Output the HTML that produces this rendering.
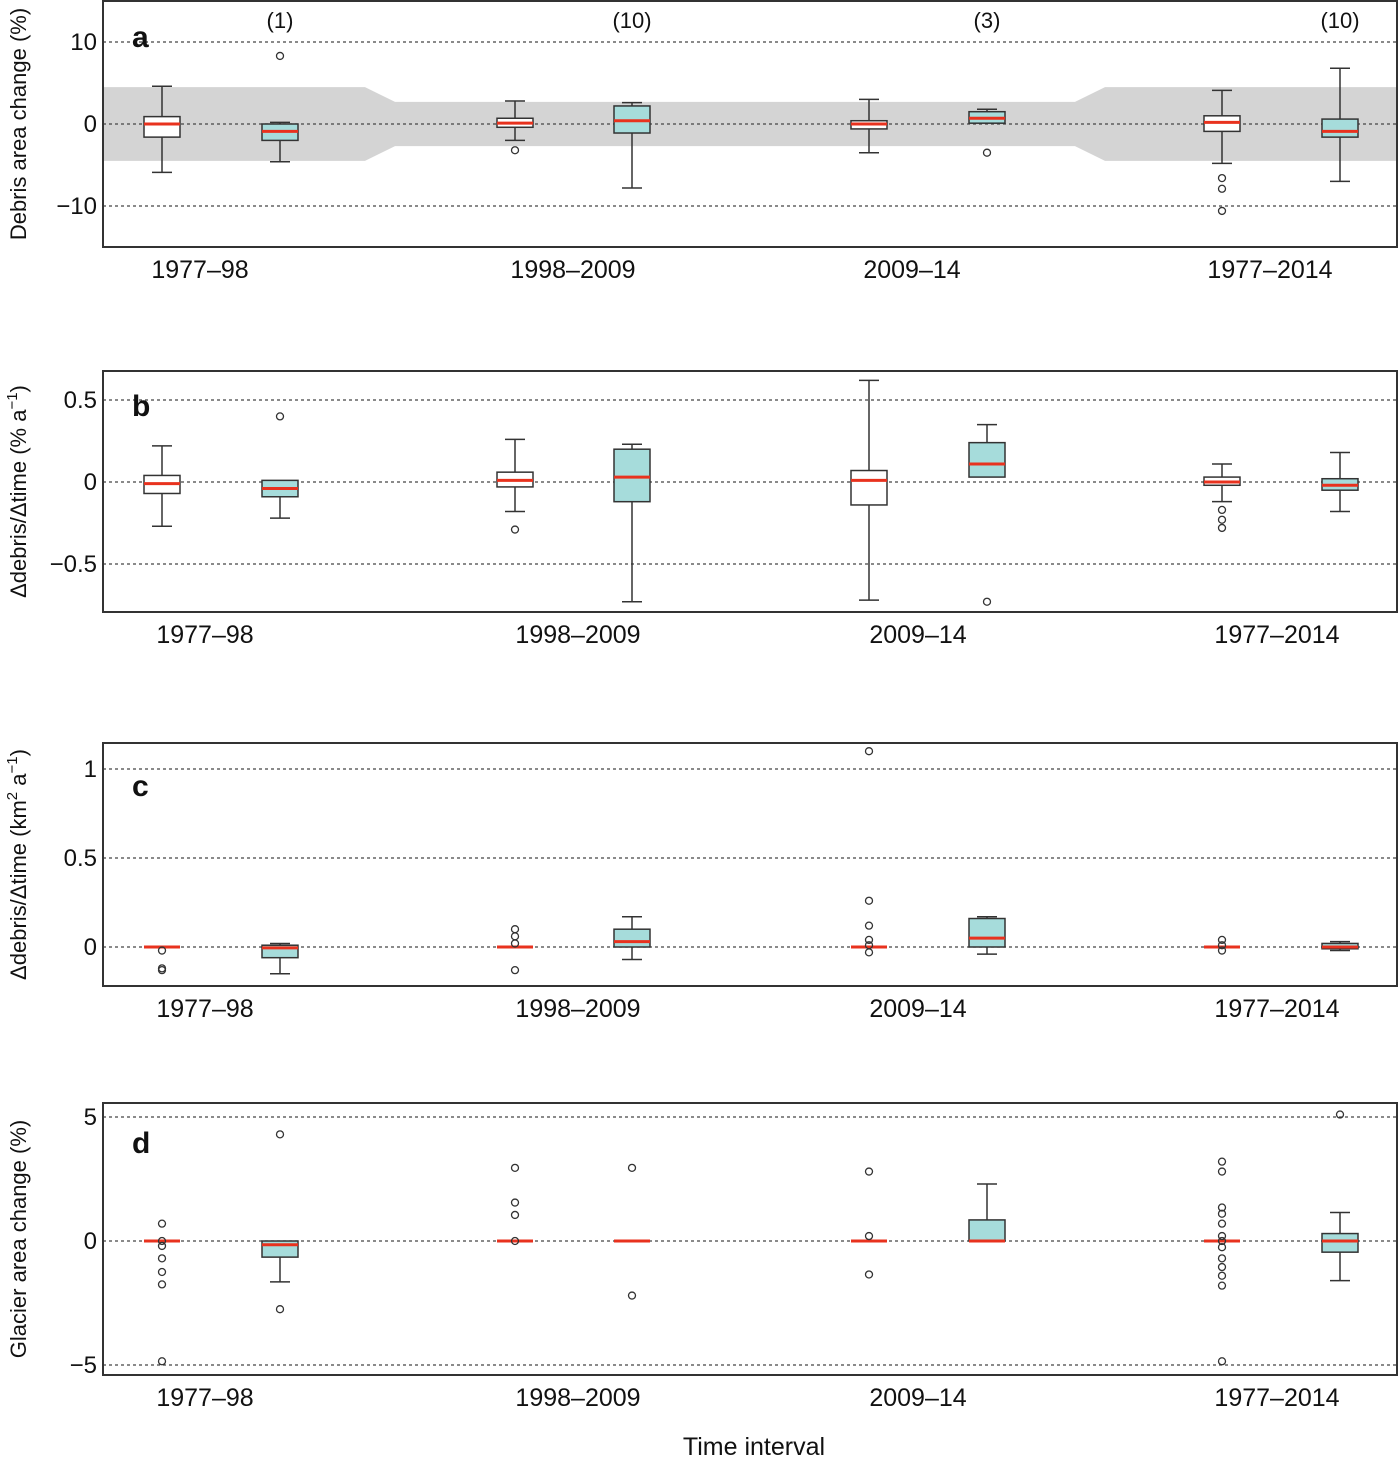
<!DOCTYPE html>
<html><head><meta charset="utf-8"><style>
body{margin:0;background:#fff}
svg{display:block;font-family:"Liberation Sans",sans-serif}
</style></head><body>
<svg id="c" width="1400" height="1457" viewBox="0 0 1400 1457"></svg>
<script>
const NS='http://www.w3.org/2000/svg';
const svg=document.getElementById('c');
const categories=['1977–98','1998–2009','2009–14','1977–2014'];
const counts=['(1)','(10)','(3)','(10)'];
// each box: [lowWhisker,q1,median,q3,highWhisker,[outliers]]
const panelA=[[-5.9,-1.6,0,0.9,4.6,[]],[-4.6,-2,-0.9,0,0.2,[8.3]],[-2,-0.4,0.1,0.7,2.8,[-3.2]],[-7.8,-1.1,0.4,2.2,2.6,[]],[-3.5,-0.6,0,0.4,3,[]],[0.1,0.1,0.7,1.5,1.8,[-3.5]],[-4.8,-0.9,0.2,1,4.1,[-6.6,-7.9,-10.6]],[-7,-1.6,-0.9,0.6,6.8,[]]];
const panelB=[[-0.27,-0.07,-0.01,0.04,0.22,[]],[-0.22,-0.09,-0.04,0.01,0.01,[0.4]],[-0.18,-0.03,0.01,0.06,0.26,[-0.29]],[-0.73,-0.12,0.03,0.2,0.23,[]],[-0.72,-0.14,0.01,0.07,0.62,[]],[0.03,0.03,0.11,0.24,0.35,[-0.73]],[-0.12,-0.02,0,0.03,0.11,[-0.17,-0.23,-0.28]],[-0.18,-0.05,-0.02,0.02,0.18,[]]];
const panelC=[[0,0,0,0,0,[-0.02,-0.12,-0.13]],[-0.15,-0.06,-0.005,0.01,0.02,[]],[0,0,0,0,0,[0.1,0.06,0.02,-0.13]],[-0.07,0,0.03,0.1,0.17,[]],[0,0,0,0,0,[1.1,0.26,0.12,0.04,0.01,-0.03]],[-0.04,0,0.05,0.16,0.17,[]],[0,0,0,0,0,[0.04,0.01,-0.02]],[-0.02,-0.01,0,0.02,0.03,[]]];
const panelD=[[0,0,0,0,0,[0.7,0,-0.2,-0.7,-1.25,-1.75,-4.85]],[-1.65,-0.65,-0.15,0,0,[4.3,-2.75]],[0,0,0,0,0,[2.95,1.55,1.05,0]],[0,0,0,0,0,[2.95,-2.2]],[0,0,0,0,0,[2.8,0.2,-1.35]],[0,0,0,0.85,2.3,[]],[0,0,0,0,0,[3.2,2.8,1.35,1.1,0.7,0.2,0,-0.25,-0.7,-1.05,-1.4,-1.8,-4.85]],[-1.6,-0.45,0,0.3,1.15,[5.1]]];
const bandA=[[103,4.5],[365,4.5],[395,2.7],[1075,2.7],[1105,4.5],[1397,4.5]];
const ticksA=[10,0,-10],ticksB=[0.5,0,-0.5],ticksC=[1,0.5,0],ticksD=[5,0,-5];
const tickLabA=['10','0','−10'],tickLabB=['0.5','0','−0.5'],tickLabC=['1','0.5','0'],tickLabD=['5','0','−5'];
const boxX=[162,280,515,632,869,987,1222,1340];
function el(t,a,p){const e=document.createElementNS(NS,t);for(const k in a)e.setAttribute(k,a[k]);(p||svg).appendChild(e);return e;}
function panel(o){
  const g=el('g',{});
  
  
  const y=v=>o.y0-(v-o.v0)*o.k;
  if(o.band){
    const top=o.band.map(p=>p[0]+','+y(p[1])).join(' ');
    const bot=o.band.slice().reverse().map(p=>p[0]+','+y(-p[1])).join(' ');
    const b=el('polygon',{points:top+' '+bot,fill:'#d4d4d4'},g);
    
    
  }
  o.ticks.forEach((t,i)=>{
    const gl=el('line',{x1:103,x2:1397,y1:y(t),y2:y(t),stroke:'#444','stroke-width':1.2,'stroke-dasharray':'3,3'},g);
    
    
    const tl=el('text',{x:97,y:y(t)+8,'text-anchor':'end','font-size':24,fill:'#111'},g);
    tl.textContent=o.tickLab[i];
    
    
  });
  o.data.forEach((d,i)=>{
    const x=boxX[i],w=36,cyan=i%2==1;
    const bg=el('g',{},g);
    
    
    if(d[4]>d[3]){el('line',{x1:x,x2:x,y1:y(d[3]),y2:y(d[4]),stroke:'#333','stroke-width':1.5},bg);el('line',{x1:x-10,x2:x+10,y1:y(d[4]),y2:y(d[4]),stroke:'#333','stroke-width':1.5},bg);}
    if(d[0]<d[1]){el('line',{x1:x,x2:x,y1:y(d[1]),y2:y(d[0]),stroke:'#333','stroke-width':1.5},bg);el('line',{x1:x-10,x2:x+10,y1:y(d[0]),y2:y(d[0]),stroke:'#333','stroke-width':1.5},bg);}
    if(d[3]>d[1]) el('rect',{x:x-w/2,y:y(d[3]),width:w,height:y(d[1])-y(d[3]),fill:cyan?'#a6dcdb':'#fff',stroke:'#333','stroke-width':1.5},bg);
    el('line',{x1:x-w/2,x2:x+w/2,y1:y(d[2]),y2:y(d[2]),stroke:'#e8321e','stroke-width':3},bg);
    d[5].forEach(v=>{const c=el('circle',{cx:x,cy:y(v),r:3.5,fill:'none',stroke:'#333','stroke-width':1.3},bg);});
  });
  const fr=el('rect',{x:103,y:o.top,width:1294,height:o.bottom-o.top,fill:'none',stroke:'#333','stroke-width':2},g);
  
  
  const lt=el('text',{x:132,y:o.letterY,'font-size':30,'font-weight':'bold',fill:'#111'},g);
  lt.textContent=o.letter;
  
  
  const cx=o.catX;
  categories.forEach((c,i)=>{
    const t=el('text',{x:cx[i],y:o.bottom+31,'text-anchor':'middle','font-size':25,fill:'#111'},g);
    t.textContent=c;
    
    
  });
  const yt=el('text',{x:0,y:0,transform:`translate(${o.ytX},${(o.top+o.bottom)/2}) rotate(-90)`,'text-anchor':'middle','font-size':22,fill:'#111'},g);
  yt.innerHTML=o.ytitle;
  
  
}
panel({letter:'a',top:1,bottom:247,y0:124,v0:0,k:8.2,data:panelA,band:bandA,ticks:ticksA,tickLab:tickLabA,letterY:47,catX:[200,573,912,1270],ytX:26,ytitle:'Debris area change (%)'});
panel({letter:'b',top:371,bottom:612,y0:482,v0:0,k:164,data:panelB,ticks:ticksB,tickLab:tickLabB,letterY:416,catX:[205,578,918,1277],ytX:26,ytitle:'Δdebris/Δtime (% a<tspan dy="-9" font-size="15">−1</tspan><tspan dy="9">)</tspan>'});
panel({letter:'c',top:743,bottom:986,y0:947,v0:0,k:178,data:panelC,ticks:ticksC,tickLab:tickLabC,letterY:796,catX:[205,578,918,1277],ytX:26,ytitle:'Δdebris/Δtime (km<tspan dy="-9" font-size="15">2</tspan><tspan dy="9"> a</tspan><tspan dy="-9" font-size="15">−1</tspan><tspan dy="9">)</tspan>'});
panel({letter:'d',top:1103,bottom:1375,y0:1241,v0:0,k:24.8,data:panelD,ticks:ticksD,tickLab:tickLabD,letterY:1153,catX:[205,578,918,1277],ytX:26,ytitle:'Glacier area change (%)'});
counts.forEach((c,i)=>{
  const t=el('text',{x:boxX[2*i+1],y:28,'text-anchor':'middle','font-size':22,fill:'#111'});
  t.textContent=c;
  
  
});
const xt=el('text',{x:754,y:1455,'text-anchor':'middle','font-size':25,fill:'#111'});
xt.textContent='Time interval';


</script>
</body></html>
